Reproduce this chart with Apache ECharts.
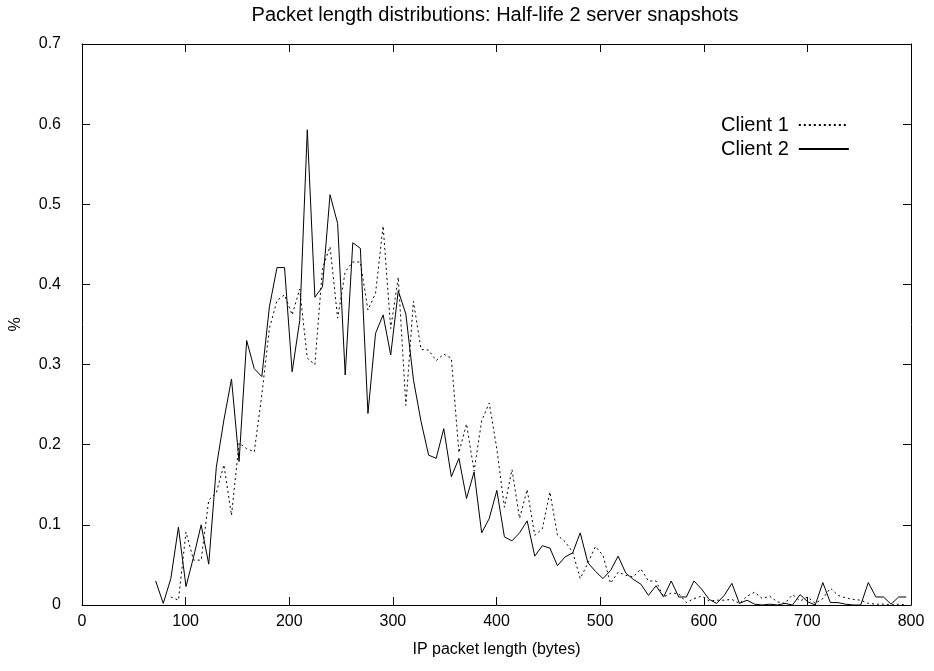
<!DOCTYPE html>
<html>
<head>
<meta charset="utf-8">
<title>Packet length distributions</title>
<script src="https://cdn.jsdelivr.net/npm/echarts@6/dist/echarts.min.js"></script>
<style>
    html, body { margin: 0; padding: 0; background: #fff; }
    #chart { width: 934px; height: 671px; }
</style>
</head>
<body>
<div id="chart"></div>
<script>
// bins of the histogram (bytes)
var binStart = 71.1;
var binWidth = 7.316;

// Client 1 (dotted) - first two bins empty
var client1 = [
    null, null, 0.010, 0.006, 0.091, 0.056, 0.056, 0.131, 0.140, 0.175,
    0.112, 0.202, 0.195, 0.191, 0.262, 0.345, 0.380, 0.387, 0.362, 0.394,
    0.308, 0.300, 0.420, 0.447, 0.358, 0.416, 0.428, 0.428, 0.368, 0.389,
    0.473, 0.345, 0.409, 0.249, 0.379, 0.319, 0.318, 0.305, 0.313, 0.308,
    0.190, 0.226, 0.167, 0.230, 0.252, 0.195, 0.122, 0.169, 0.108, 0.144,
    0.087, 0.095, 0.141, 0.087, 0.079, 0.066, 0.033, 0.052, 0.073, 0.062,
    0.027, 0.041, 0.037, 0.035, 0.045, 0.030, 0.030, 0.010, 0.015, 0.014,
    0.003, 0.008, 0.011, 0.005, 0.006, 0.006, 0.007, 0.002, 0.011, 0.016,
    0.008, 0.011, 0.004, 0.002, 0.013, 0.005, 0.010, 0.002, 0.008, 0.021,
    0.012, 0.009, 0.007, 0.006, 0.002, 0.001, 0.001, 0.000, 0.001, 0.000
];

// Client 2 (solid)
var client2 = [
    0.030, 0.002, 0.033, 0.097, 0.023, 0.060, 0.100, 0.051, 0.172, 0.231,
    0.282, 0.179, 0.330, 0.295, 0.285, 0.372, 0.421, 0.421, 0.291, 0.355,
    0.593, 0.384, 0.397, 0.512, 0.476, 0.287, 0.452, 0.445, 0.239, 0.339,
    0.362, 0.312, 0.392, 0.363, 0.281, 0.229, 0.187, 0.183, 0.220, 0.160,
    0.183, 0.133, 0.166, 0.090, 0.108, 0.143, 0.085, 0.080, 0.090, 0.105,
    0.061, 0.074, 0.071, 0.049, 0.060, 0.065, 0.090, 0.053, 0.042, 0.033,
    0.043, 0.061, 0.040, 0.032, 0.026, 0.012, 0.024, 0.010, 0.030, 0.010,
    0.010, 0.030, 0.020, 0.007, 0.002, 0.012, 0.027, 0.002, 0.006, 0.001,
    0.000, 0.001, 0.000, 0.002, 0.000, 0.013, 0.004, 0.000, 0.028, 0.003,
    0.003, 0.001, 0.000, 0.000, 0.028, 0.010, 0.010, 0.001, 0.010, 0.010
];

var seriesNames = ['Client 1', 'Client 2'];

var xRange = [0, 800, 100];
var yRange = [0, 0.7, 0.1];

var font = '"Liberation Sans", Arial, Helvetica, sans-serif';

function toPoints(vals) {
    var pts = [];
    for (var i = 0; i < vals.length; i++) {
        if (vals[i] === null) continue;
        pts.push([binStart + binWidth * i, vals[i]]);
    }
    return pts;
}

var axisLine = { show: true, onZero: false, lineStyle: { color: '#000', width: 1 } };
var axisTick = { show: true, inside: true, length: 8, lineStyle: { color: '#000', width: 1 } };

function xAxisDef(pos, withLabels) {
    return {
        type: 'value',
        position: pos,
        min: xRange[0],
        max: xRange[1],
        interval: xRange[2],
        axisLine: axisLine,
        axisTick: axisTick,
        splitLine: { show: false },
        axisLabel: {
            show: withLabels,
            color: '#000',
            fontSize: 16,
            fontFamily: font,
            margin: 9
        },
        name: withLabels ? 'IP packet length (bytes)' : '',
        nameLocation: 'middle',
        nameGap: 37,
        nameTextStyle: { color: '#000', fontSize: 16, fontFamily: font }
    };
}

function yAxisDef(pos, withLabels) {
    return {
        type: 'value',
        position: pos,
        min: yRange[0],
        max: yRange[1],
        interval: yRange[2],
        axisLine: axisLine,
        axisTick: axisTick,
        splitLine: { show: false },
        axisLabel: {
            show: withLabels,
            color: '#000',
            fontSize: 16,
            fontFamily: font,
            margin: 21,
            formatter: function(v) {
                return v === 0 ? '0' : v.toFixed(1);
            }
        },
        name: withLabels ? '%' : '',
        nameLocation: 'middle',
        nameGap: 58,
        nameRotate: 90,
        nameTextStyle: { color: '#000', fontSize: 16, fontFamily: font }
    };
}

var chart = echarts.init(document.getElementById('chart'), null, { renderer: 'canvas' });

chart.setOption({
    animation: false,
    backgroundColor: '#fff',
    title: {
        text: 'Packet length distributions: Half-life 2 server snapshots',
        left: 490,
        textAlign: 'center',
        top: 0,
        textStyle: { color: '#000', fontSize: 20, fontWeight: 'normal', fontFamily: font }
    },
    grid: {
        left: 79,
        right: 23,
        top: 44,
        bottom: 66,
        containLabel: false
    },
    legend: {
        orient: 'vertical',
        left: 716,
        top: 110,
        align: 'right',
        itemWidth: 50,
        itemHeight: 12,
        itemGap: 4,
        itemStyle: { opacity: 0 },
        textStyle: { color: '#000', fontSize: 20, fontFamily: font, padding: [0, 5, 0, 0] },
        data: seriesNames
    },
    xAxis: [xAxisDef('bottom', true), xAxisDef('top', false)],
    yAxis: [yAxisDef('left', true), yAxisDef('right', false)],
    series: [
        {
            name: seriesNames[0],
            type: 'line',
            symbol: 'none',
            xAxisIndex: 0,
            yAxisIndex: 0,
            lineStyle: { color: '#000', width: 1, type: [2, 3] },
            itemStyle: { color: '#000', opacity: 0 },
            data: toPoints(client1)
        },
        {
            name: seriesNames[1],
            type: 'line',
            symbol: 'none',
            xAxisIndex: 0,
            yAxisIndex: 0,
            lineStyle: { color: '#000', width: 1, type: 'solid' },
            itemStyle: { color: '#000', opacity: 0 },
            data: toPoints(client2)
        }
    ]
});
</script>
</body>
</html>
